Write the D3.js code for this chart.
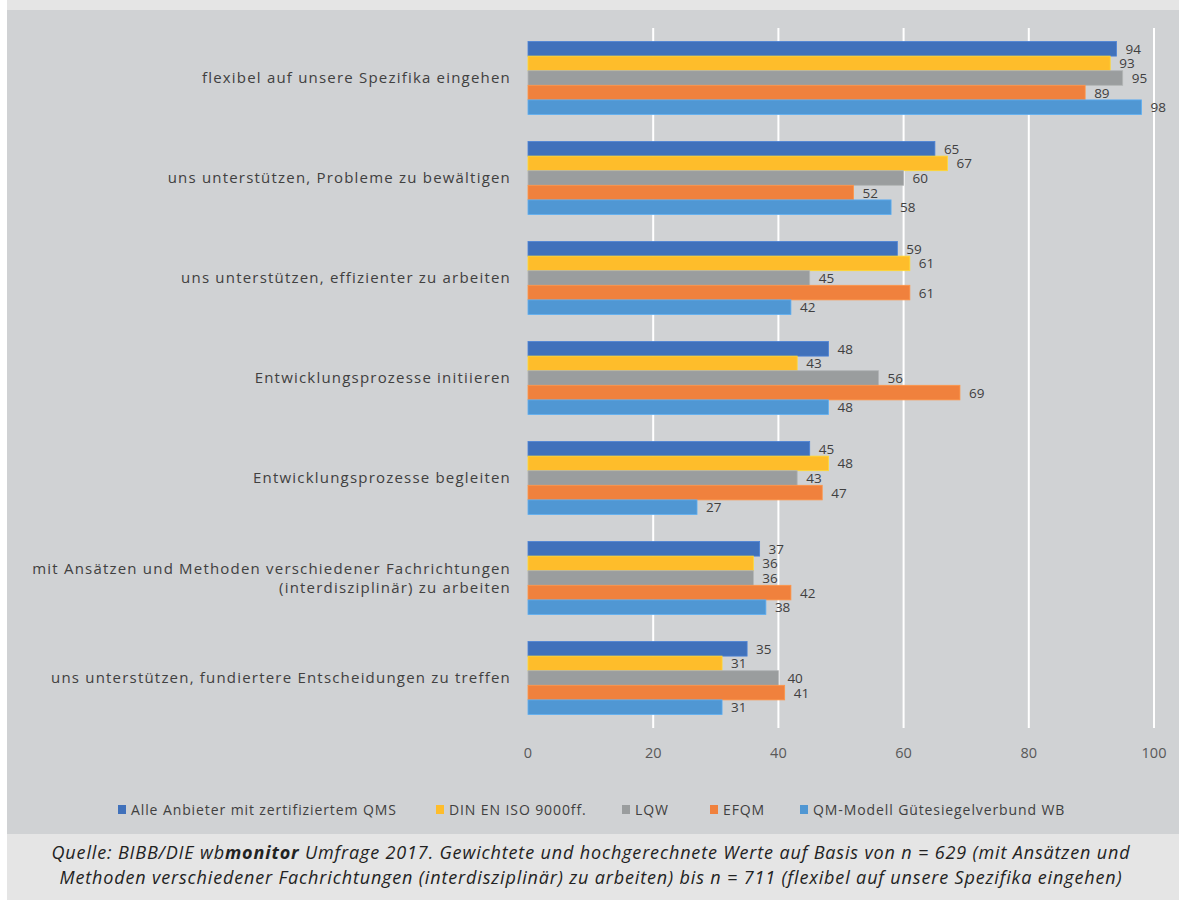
<!DOCTYPE html>
<html>
<head>
<meta charset="utf-8">
<script src="https://cdn.jsdelivr.net/npm/d3@7"></script>
<style>
    body { margin: 0; padding: 0; background: #ffffff; }
    svg { display: block; }
</style>
</head>
<body>
<div id="chart-container"></div>
<script>
    var categories = [
        ["flexibel auf unsere Spezifika eingehen"],
        ["uns unterstützen, Probleme zu bewältigen"],
        ["uns unterstützen, effizienter zu arbeiten"],
        ["Entwicklungsprozesse initiieren"],
        ["Entwicklungsprozesse begleiten"],
        ["mit Ansätzen und Methoden verschiedener Fachrichtungen", "(interdisziplinär) zu arbeiten"],
        ["uns unterstützen, fundiertere Entscheidungen zu treffen"]
    ];
    var seriesNames = [
        "Alle Anbieter mit zertifiziertem QMS",
        "DIN EN ISO 9000ff.",
        "LQW",
        "EFQM",
        "QM-Modell Gütesiegelverbund WB"
    ];
    var alleAnbieter = [94, 65, 59, 48, 45, 37, 35];
    var dinIso = [93, 67, 61, 43, 48, 36, 31];
    var lqw = [95, 60, 45, 56, 43, 36, 40];
    var efqm = [89, 52, 61, 69, 47, 42, 41];
    var qmModell = [98, 58, 42, 48, 27, 38, 31];
    var xTicks = [0, 20, 40, 60, 80, 100];

    var seriesValues = [alleAnbieter, dinIso, lqw, efqm, qmModell];
    var COLORS = ["#4071bb", "#febd2b", "#9a9d9e", "#f0813d", "#5097d3"];

    var W = 1179, H = 900;
    var svg = d3.select("#chart-container").append("svg")
        .attr("width", W).attr("height", H);

    // backgrounds
    svg.append("rect").attr("x", 7).attr("y", 0).attr("width", W - 7).attr("height", 10).attr("fill", "#e5e5e5");
    svg.append("rect").attr("x", 7).attr("y", 10).attr("width", W - 7).attr("height", 824).attr("fill", "#d0d2d4");
    svg.append("rect").attr("x", 7).attr("y", 834).attr("width", W - 7).attr("height", 66).attr("fill", "#e5e5e5");

    var xScale = d3.scaleLinear().domain([0, 100]).range([528, 1154]);
    var yScale = d3.scaleBand().domain(d3.range(categories.length)).range([28, 728]).paddingInner(0.27).paddingOuter(0.135);
    var ySub = d3.scaleBand().domain(d3.range(seriesNames.length)).range([0, yScale.bandwidth()]);

    // gridlines
    svg.append("g").selectAll("line").data(xTicks.slice(1)).enter().append("line")
        .attr("x1", d => xScale(d)).attr("x2", d => xScale(d))
        .attr("y1", 28).attr("y2", 728)
        .attr("stroke", "#ffffff").attr("stroke-width", 2);

    // axis labels
    svg.append("g").selectAll("text").data(xTicks).enter().append("text")
        .attr("x", d => xScale(d)).attr("y", 758)
        .attr("text-anchor", "middle")
        .attr("font-family", "'Open Sans', sans-serif").attr("font-size", 14.5)
        .attr("fill", "#595959")
        .text(d => d);

    // category labels
    var catG = svg.append("g").selectAll("text").data(categories).enter().append("text")
        .attr("text-anchor", "end")
        .attr("font-family", "'Open Sans', sans-serif").attr("font-size", 15)
        .attr("letter-spacing", 1.2)
        .attr("fill", "#404040")
        .attr("y", (d, i) => yScale(i) + yScale.bandwidth() / 2 + 5 - (d.length - 1) * 9.5);
    catG.selectAll("tspan").data(d => d).enter().append("tspan")
        .attr("x", 511)
        .attr("dy", (d, j) => j === 0 ? 0 : 19)
        .text(d => d);

    // bars
    var groups = svg.append("g").selectAll("g").data(categories).enter().append("g")
        .attr("transform", (d, i) => "translate(0," + yScale(i) + ")");
    groups.each(function (c, i) {
        var g = d3.select(this);
        seriesValues.forEach(function (vals, s) {
            g.append("rect")
                .attr("x", xScale(0))
                .attr("y", ySub(s))
                .attr("width", xScale(vals[i]) - xScale(0))
                .attr("height", ySub.bandwidth())
                .attr("fill", COLORS[s])
                .attr("stroke", d3.color(COLORS[s]).brighter(0.4))
                .attr("stroke-width", 0.8);
            g.append("text")
                .attr("x", xScale(vals[i]) + 9)
                .attr("y", ySub(s) + ySub.bandwidth() / 2 + 5)
                .attr("font-family", "'Open Sans', sans-serif").attr("font-size", 13.5)
                .attr("fill", "#404040")
                .text(vals[i]);
        });
    });

    // legend
    var legendX = [118, 436, 622, 710, 800];
    var leg = svg.append("g").selectAll("g").data(seriesNames).enter().append("g")
        .attr("transform", (d, i) => "translate(" + legendX[i] + ",810)");
    leg.append("rect").attr("x", 0).attr("y", -5).attr("width", 8).attr("height", 9)
        .attr("fill", (d, i) => COLORS[i]);
    leg.append("text").attr("x", 13).attr("y", 5)
        .attr("font-family", "'Open Sans', sans-serif").attr("font-size", 14)
        .attr("letter-spacing", 0.9)
        .attr("fill", "#404040")
        .text(d => d);

    // source note
    var note = svg.append("g")
        .attr("font-family", "'Open Sans', sans-serif").attr("font-size", 18)
        .attr("letter-spacing", 0.85)
        .attr("font-style", "italic").attr("fill", "#222222")
        .attr("text-anchor", "middle");
    var l1 = note.append("text").attr("x", 591).attr("y", 859);
    l1.append("tspan").text("Quelle: BIBB/DIE wb");
    l1.append("tspan").attr("font-weight", "bold").text("monitor");
    l1.append("tspan").text(" Umfrage 2017. Gewichtete und hochgerechnete Werte auf Basis von n = 629 (mit Ansätzen und");
    note.append("text").attr("x", 591).attr("y", 884)
        .text("Methoden verschiedener Fachrichtungen (interdisziplinär) zu arbeiten) bis n = 711 (flexibel auf unsere Spezifika eingehen)");
</script>
</body>
</html>
